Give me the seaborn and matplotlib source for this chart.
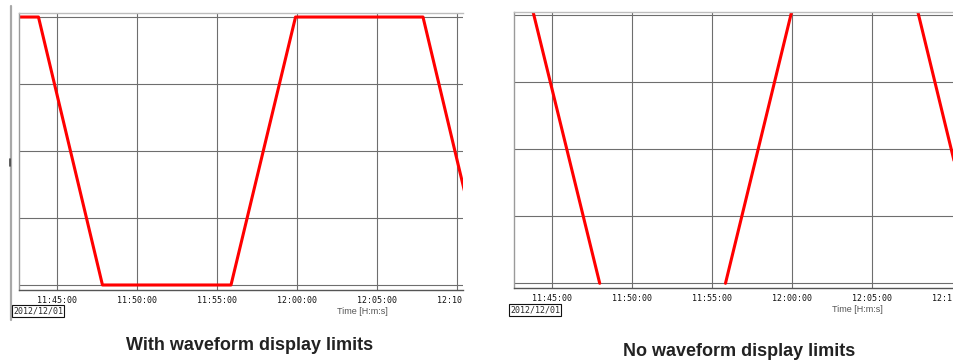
import seaborn as sns
import numpy as np
import pandas as pd
import matplotlib
matplotlib.use("Agg")
from matplotlib import pyplot as plt
from matplotlib.lines import Line2D
from matplotlib.transforms import Bbox, TransformedBbox


## DADOS

day = "2012-12-01 "
date_label = "2012/12/01"
axis_label = "Time [H:m:s]"
titles = ["With waveform display limits", "No waveform display limits"]

# com limites: a forma de onda fica presa entre 0 e 100
limit_times = ["11:42:30", "11:43:50", "11:47:50", "11:55:52", "11:59:54", "12:07:52", "12:10:30"]
limit_values = [100, 100, 0, 0, 100, 100, 34]

# sem limites: a forma de onda sai da faixa de exibição
nolimit_times = ["11:43:40", "11:47:59", "11:55:50", "12:00:07", "12:07:41", "12:10:10"]
nolimit_values = [105, 0, 0, 105, 105, 44]
nolimit_seg = [0, 0, 1, 1, 2, 2]

tick_times = ["11:45:00", "11:50:00", "11:55:00", "12:00:00", "12:05:00", "12:10:00"]
y_grid = [0, 25, 50, 75, 100]

df_lim = pd.DataFrame({"time": pd.to_datetime([day + t for t in limit_times]),
                       "value": limit_values})
df_nolim = pd.DataFrame({"time": pd.to_datetime([day + t for t in nolimit_times]),
                         "value": nolimit_values, "seg": nolimit_seg})
ticks = pd.to_datetime([day + t for t in tick_times])


## FIGURA

sns.set_style("white")
W, H = 954, 363
fig = plt.figure(figsize=(W / 100, H / 100), dpi=100)


def px_axes(x0, y0, x1, y1):
    return fig.add_axes([x0 / W, 1 - y1 / H, (x1 - x0) / W, (y1 - y0) / H])


ax1 = px_axes(19, 13, 463, 290)
ax2 = px_axes(514, 11.7, 953, 288)

sns.lineplot(data=df_lim, x="time", y="value", ax=ax1, color="#ff0000", lw=2.2)
sns.lineplot(data=df_nolim, x="time", y="value", units="seg", estimator=None,
             ax=ax2, color="#ff0000", lw=2.2)

ax1.set_xlim(pd.Timestamp(day + "11:42:37"), pd.Timestamp(day + "12:10:22"))
ax1.set_ylim(-1.87, 101.5)
ax2.set_xlim(pd.Timestamp(day + "11:42:38"), pd.Timestamp(day + "12:10:02"))
ax2.set_ylim(-1.75, 101.23)

clip_right = [463, 952]
for ax, cr in zip([ax1, ax2], clip_right):
    ax.set_xticks(ticks, tick_times)
    ax.set_yticks(y_grid, [""] * len(y_grid))
    ax.set_xlabel("")
    ax.set_ylabel("")
    ax.grid(True, color="#6e6e6e", lw=0.8)
    ax.set_axisbelow(True)
    ax.tick_params(axis="y", length=0)
    ax.tick_params(axis="x", length=4, width=0.8, color="#6e6e6e", pad=0.5,
                   labelsize=6, labelcolor="#111111")
    ax.spines["right"].set_visible(False)
    ax.spines["top"].set_color("#bdbdbd")
    ax.spines["top"].set_linewidth(1)
    ax.spines["left"].set_color("#9a9a9a")
    ax.spines["left"].set_linewidth(1)
    ax.spines["bottom"].set_color("#555555")
    ax.spines["bottom"].set_linewidth(1)
    clip = TransformedBbox(Bbox([[0, 0], [cr / W, 1]]), fig.transFigure)
    for lbl in ax.get_xticklabels():
        lbl.set_family("DejaVu Sans Mono")
        lbl.set_clip_box(clip)
        lbl.set_clip_on(True)

# no painel direito a grade de 12:10 fica fora do recorte
last = ax2.xaxis.get_major_ticks()[-1]
last.gridline.set_visible(False)
last.tick1line.set_visible(False)

# linha externa do painel esquerdo
fig.add_artist(Line2D([11 / W, 11 / W], [1 - 6 / H, 1 - 320 / H], color="#a8a8a8", lw=1.6))
fig.add_artist(Line2D([10 / W, 10 / W], [1 - 159 / H, 1 - 166 / H], color="#444444", lw=1.2))

# data e rótulo do eixo
for x, y in [(13, 311), (510, 310)]:
    fig.text(x / W, 1 - y / H, date_label, fontsize=6, family="DejaVu Sans Mono",
             ha="left", va="center",
             bbox=dict(boxstyle="square,pad=0.15", fc="white", ec="#111111", lw=0.8))
for x, y in [(362, 311), (857, 309)]:
    fig.text(x / W, 1 - y / H, axis_label, fontsize=6.5, family="Liberation Sans",
             color="#555555", ha="center", va="center")

# títulos
for t, x, y in zip(titles, [250, 739], [346, 352]):
    fig.text(x / W, 1 - y / H, t, fontsize=13, fontweight="bold",
             family="Liberation Sans", color="#222222", ha="center", va="center")

plt.savefig("out.png", dpi=100)
